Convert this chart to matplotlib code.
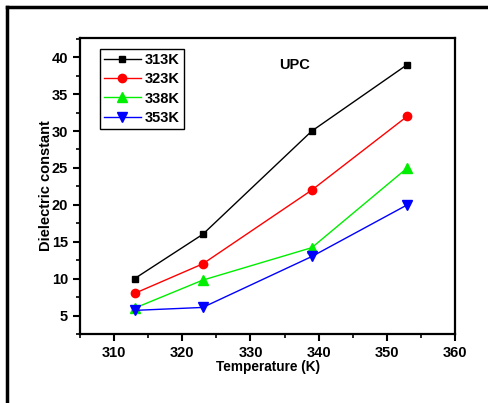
import numpy as np
import matplotlib
matplotlib.use("Agg")
import matplotlib.pyplot as plt
from matplotlib.ticker import MultipleLocator
from matplotlib.lines import Line2D

plt.rcParams['font.family'] = ['Liberation Sans', 'DejaVu Sans']
plt.rcParams['font.weight'] = 'bold'

temperature = [313, 323, 339, 353]
eps_313 = [10, 16, 30, 39]
eps_323 = [8, 12, 22, 32]
eps_338 = [6, 9.8, 14.2, 25]
eps_353 = [5.7, 6.1, 13, 20]

series = [
    ("313K", eps_313, "black", "s", 5),
    ("323K", eps_323, "red", "o", 6),
    ("338K", eps_338, "#00ee00", "^", 7),
    ("353K", eps_353, "blue", "v", 7),
]

fig = plt.figure(figsize=(4.89, 4.03), dpi=100)
ax = fig.add_axes([0.1636, 0.1712, 0.7669, 0.7345])

for label, vals, col, mk, ms in series:
    ax.plot(temperature, vals, color=col, marker=mk, markersize=ms,
            linewidth=1.0, label=label)

ax.set_xlim(305, 360)
ax.set_ylim(2.5, 42.6)
ax.xaxis.set_major_locator(MultipleLocator(10))
ax.xaxis.set_minor_locator(MultipleLocator(5))
ax.yaxis.set_major_locator(MultipleLocator(5))
ax.yaxis.set_minor_locator(MultipleLocator(2.5))
ax.tick_params(which='major', direction='out', length=5, width=1.5, labelsize=10.5)
ax.tick_params(which='minor', direction='out', length=3, width=1.2)
for sp in ax.spines.values():
    sp.set_linewidth(1.6)

ax.set_xlabel("Temperature (K)", fontsize=9.8, fontweight='bold', labelpad=0)
ax.set_ylabel("Dielectric constant", fontsize=10.5, fontweight='bold', labelpad=-1)

ax.text(336.4, 39.0, "UPC", fontsize=10.5, fontweight='bold', ha='center', va='center')

leg = ax.legend(loc='upper left', bbox_to_anchor=(0.053, 0.963), borderaxespad=0,
                fontsize=10.5, handlelength=2.5, handletextpad=0.25, labelspacing=0.35,
                borderpad=0.3, fancybox=False, edgecolor='black', framealpha=1)
leg.get_frame().set_linewidth(1.0)

# outer frame
fig.add_artist(Line2D([7/489, 7/489], [0, 1 - 7/403], transform=fig.transFigure,
                      color='black', linewidth=2.5))
fig.add_artist(Line2D([7/489, 1], [1 - 7/403, 1 - 7/403], transform=fig.transFigure,
                      color='black', linewidth=2.5))

fig.savefig("out.png", dpi=100)
